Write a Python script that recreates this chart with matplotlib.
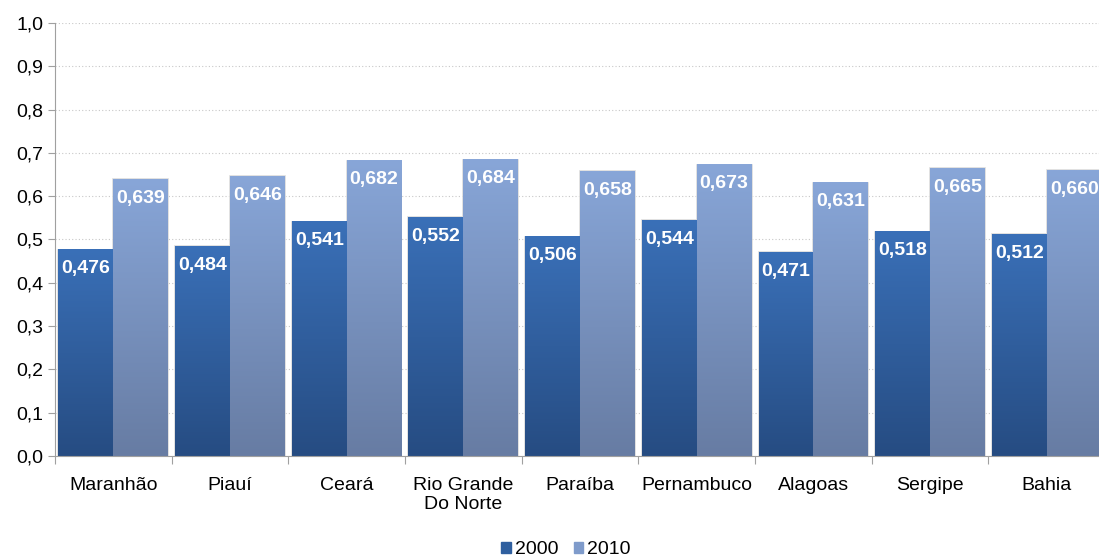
import numpy as np
import matplotlib
matplotlib.use("Agg")
import matplotlib.pyplot as plt
from matplotlib.colors import LinearSegmentedColormap
from matplotlib.patches import Patch, Rectangle
from matplotlib.ticker import FuncFormatter, FixedLocator

plt.rcParams["font.family"] = ["Liberation Sans", "DejaVu Sans"]

estados = ["Maranhão", "Piauí", "Ceará", "Rio Grande\nDo Norte", "Paraíba",
           "Pernambuco", "Alagoas", "Sergipe", "Bahia"]
idh_2000 = [0.476, 0.484, 0.541, 0.552, 0.506, 0.544, 0.471, 0.518, 0.512]
idh_2010 = [0.639, 0.646, 0.682, 0.684, 0.658, 0.673, 0.631, 0.665, 0.660]
anos = ["2000", "2010"]

# gradient colours (top, bottom) for each series
grad = {"2000": ("#3a70b8", "#264c82"), "2010": ("#88a6d8", "#677ca3")}
solid = {"2000": "#2f5f9f", "2010": "#7f9bcb"}

fig = plt.figure(figsize=(10.99, 5.56), dpi=100)
ax = fig.add_axes([0.05, 0.18, 0.9555, 0.7786])

x = np.arange(len(estados))
w = 0.47
offs = [-w / 2, w / 2]

def gradient_bar(ax, xc, h, top, bottom):
    cmap = LinearSegmentedColormap.from_list("g", [bottom, top])
    img = np.linspace(0, 1, 256).reshape(-1, 1)
    ax.imshow(img, cmap=cmap, origin="lower", aspect="auto",
              extent=(xc - w / 2, xc + w / 2, 0, h), zorder=2)
    # faint light outline around each bar
    ax.add_patch(Rectangle((xc - w / 2, 0), w, h, fill=False,
                           ec="#dcdcdc", lw=1.2, zorder=1.8))

for serie, vals, off in zip(anos, [idh_2000, idh_2010], offs):
    for xi, v in zip(x, vals):
        gradient_bar(ax, xi + off, v, *grad[serie])
        ax.text(xi + off, v - 0.044, f"{v:.3f}".replace(".", ","),
                ha="center", va="center", color="white", fontsize=14,
                fontweight="bold", zorder=4)

ax.set_xlim(-0.5, len(estados) - 0.5)
ax.set_ylim(0, 1.0)
ax.set_yticks(np.arange(0, 1.01, 0.1))
ax.yaxis.set_major_formatter(FuncFormatter(lambda v, p: f"{v:.1f}".replace(".", ",")))
ax.grid(axis="y", color="#c8c8c8", ls=(0, (1, 2)), lw=0.8, zorder=0)

ax.xaxis.set_major_locator(FixedLocator(np.arange(len(estados) + 1) - 0.5))
ax.xaxis.set_major_formatter(FuncFormatter(lambda v, p: ""))
ax.xaxis.set_minor_locator(FixedLocator(x))
ax.set_xticklabels(estados, minor=True)
ax.tick_params(axis="x", which="minor", length=0, labelsize=14, pad=15)
ax.tick_params(axis="x", which="major", length=6, color="#a0a0a0")
ax.tick_params(axis="y", length=5, color="#a0a0a0", labelsize=14)
for s in ("top", "right"):
    ax.spines[s].set_visible(False)
for s in ("left", "bottom"):
    ax.spines[s].set_color("#a0a0a0")
    ax.spines[s].set_zorder(3)

handles = [Patch(color=solid[a], label=a) for a in anos]
fig.legend(handles=handles, loc="lower center", bbox_to_anchor=(0.515, -0.035),
           ncol=2, frameon=False, fontsize=14, handlelength=0.5, handleheight=0.5,
           handletextpad=0.2, columnspacing=0.8)

fig.savefig("out.png", dpi=100)
